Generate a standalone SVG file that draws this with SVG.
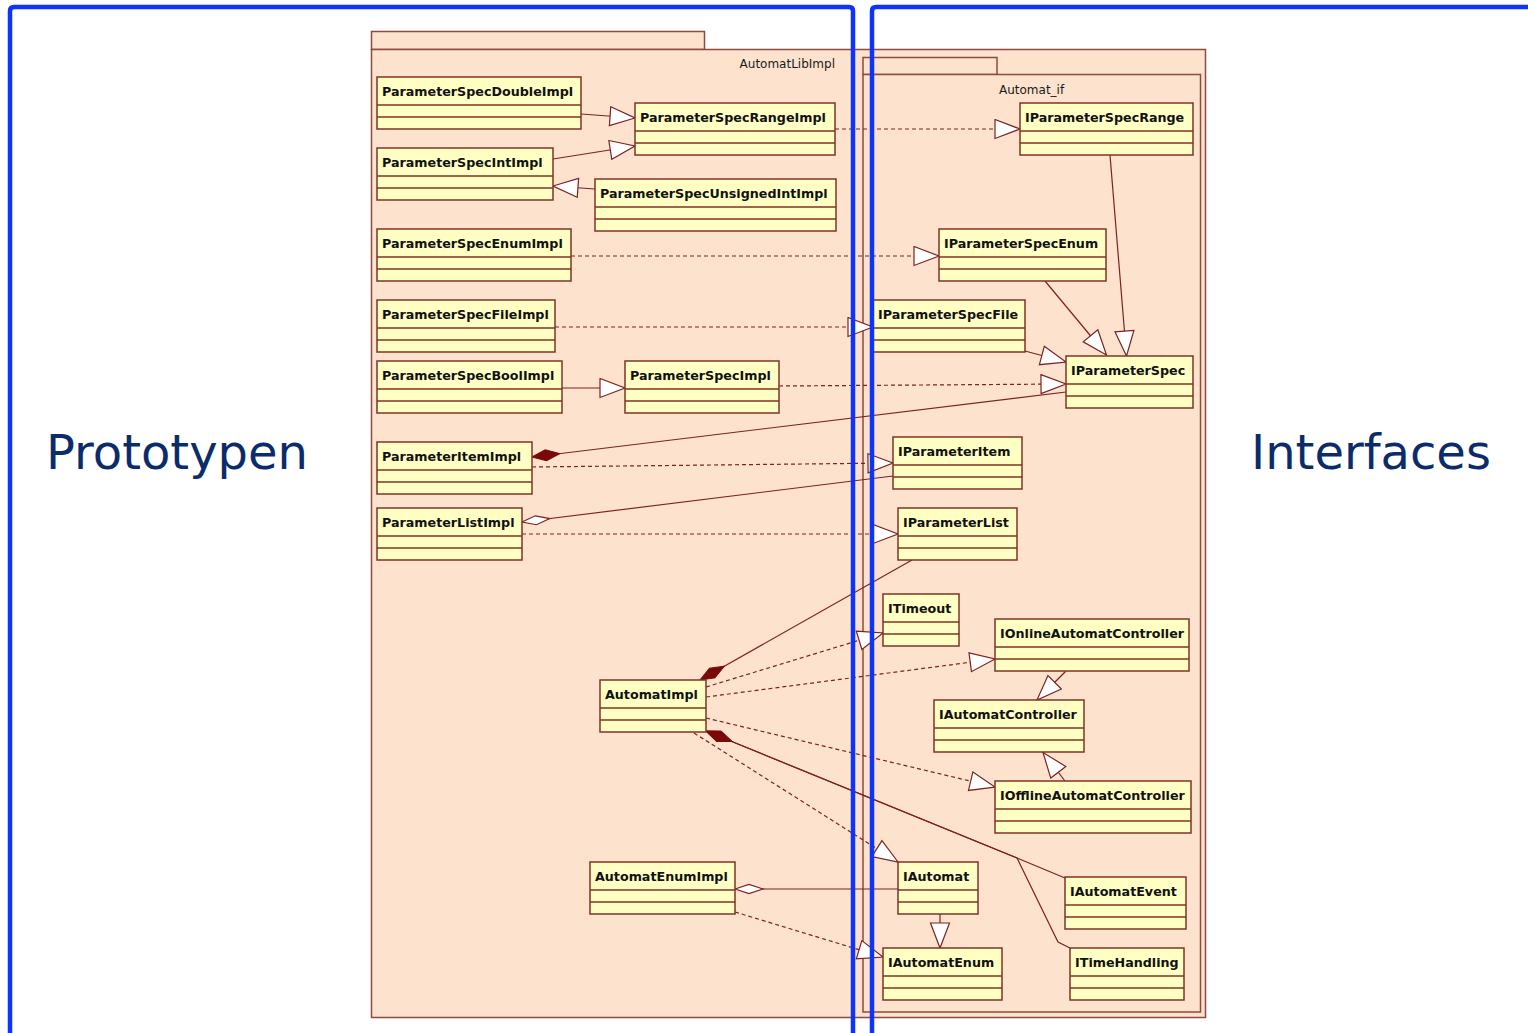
<svg xmlns="http://www.w3.org/2000/svg" width="1528" height="1033" viewBox="0 0 1528 1033">
  <style>
    .pkg { fill: #fde3cd; stroke: #8e4a3e; stroke-width: 1.5; }
    .pkglabel { font-family: "DejaVu Sans", Verdana, sans-serif; font-size: 12px; fill: #1a1a1a; }
    .cls { fill: #ffffc4; stroke: #7e3426; stroke-width: 1.5; }
    .div { stroke: #7e3426; stroke-width: 1.5; }
    .name { font-family: "DejaVu Sans", Verdana, sans-serif; font-size: 12.7px; font-weight: bold; fill: #111; }
    .solid { fill: none; stroke: #7a2222; stroke-width: 1.2; }
    .dash { fill: none; stroke: #7a2222; stroke-width: 1.2; stroke-dasharray: 4 3; }
    .frame { fill: none; stroke: #0d33ff; stroke-width: 4.5; stroke-linejoin: round; }
    .big { font-family: "DejaVu Sans", Verdana, sans-serif; font-size: 48px; fill: #0b2c6a; }
  </style>
  <defs>
    <marker id="tri" markerUnits="userSpaceOnUse" markerWidth="30" markerHeight="24" refX="26" refY="10.5" orient="auto">
      <path d="M1,1 L26,10.5 L1,20 Z" fill="#ffffff" stroke="#7a2222" stroke-width="1.2"/>
    </marker>
    <marker id="dia" markerUnits="userSpaceOnUse" markerWidth="32" markerHeight="16" refX="1" refY="7" orient="auto">
      <path d="M1,7 L15,1.5 L29,7 L15,12.5 Z" fill="#7a0a0a" stroke="#7a0a0a" stroke-width="1"/>
    </marker>
    <marker id="odia" markerUnits="userSpaceOnUse" markerWidth="32" markerHeight="16" refX="1" refY="7" orient="auto">
      <path d="M1,7 L15,2.5 L29,7 L15,11.5 Z" fill="#ffffff" stroke="#7a2222" stroke-width="1.2"/>
    </marker>
  </defs>

  <rect width="1528" height="1033" fill="#ffffff"/>

  <!-- packages -->
  <g id="pkg-AutomatLibImpl">
    <rect class="pkg" x="371.5" y="31.5" width="333" height="18"/>
    <rect class="pkg" x="371.5" y="49.5" width="834" height="968"/>
    <text class="pkglabel" x="835" y="68" text-anchor="end">AutomatLibImpl</text>
  </g>
  <g id="pkg-Automat_if">
    <rect class="pkg" x="863" y="57.5" width="134" height="17"/>
    <rect class="pkg" x="863" y="74.5" width="337.5" height="937.5"/>
    <text class="pkglabel" x="999" y="94">Automat_if</text>
  </g>

  <!-- connectors -->
  <g id="connectors">
    <!-- generalizations -->
    <path class="solid" d="M581,114 L635,118" marker-end="url(#tri)"/>
    <path class="solid" d="M553,159 L635,146" marker-end="url(#tri)"/>
    <path class="solid" d="M595,189 L553,186" marker-end="url(#tri)"/>
    <path class="solid" d="M562,388 L625,388" marker-end="url(#tri)"/>
    <path class="solid" d="M1110,155 L1126.5,356" marker-end="url(#tri)"/>
    <path class="solid" d="M1045,281 L1106.5,355" marker-end="url(#tri)"/>
    <path class="solid" d="M1025,351 L1066,362" marker-end="url(#tri)"/>
    <path class="solid" d="M1065.5,671.5 L1037,700" marker-end="url(#tri)"/>
    <path class="solid" d="M1065,781 L1043,752.5" marker-end="url(#tri)"/>
    <path class="solid" d="M940,914 L940,948" marker-end="url(#tri)"/>

    <!-- realizations -->
    <path class="dash" d="M835,129 L1020,129" marker-end="url(#tri)"/>
    <path class="dash" d="M571,256 L939,256" marker-end="url(#tri)"/>
    <path class="dash" d="M555,327 L873,327" marker-end="url(#tri)"/>
    <path class="dash" d="M779,386 L1066,384" marker-end="url(#tri)"/>
    <path class="dash" d="M532,467 L893,463" marker-end="url(#tri)"/>
    <path class="dash" d="M522,534 L898,534" marker-end="url(#tri)"/>
    <path class="dash" d="M706,687 L883,633" marker-end="url(#tri)"/>
    <path class="dash" d="M706,697 L995,659" marker-end="url(#tri)"/>
    <path class="dash" d="M706,718 L995,787" marker-end="url(#tri)"/>
    <path class="dash" d="M694,733 L898,862" marker-end="url(#tri)"/>
    <path class="dash" d="M735,912 L883,957" marker-end="url(#tri)"/>

    <!-- associations -->
    <path class="solid" d="M532,457 L1066,392" marker-start="url(#dia)"/>
    <path class="solid" d="M522,522 L893,476" marker-start="url(#odia)"/>
    <path class="solid" d="M700,680 L912,560" marker-start="url(#dia)"/>
    <path class="solid" d="M735,889 L898,889" marker-start="url(#odia)"/>
    <path class="solid" d="M706,731 L1017,858 L1065,878" marker-start="url(#dia)"/>
    <path class="solid" d="M706,731 L1017,858 L1058,942 L1070,948" marker-start="url(#dia)"/>
  </g>

  <!-- classes: name row, attribute row, operation row -->
  <g id="ParameterSpecDoubleImpl"><rect class="cls" x="377" y="77" width="204" height="52"/><path class="div" d="M377,105H581M377,117H581"/><text class="name" x="382" y="96">ParameterSpecDoubleImpl</text></g>
  <g id="ParameterSpecRangeImpl"><rect class="cls" x="635" y="103" width="200" height="52"/><path class="div" d="M635,131H835M635,143H835"/><text class="name" x="640" y="122">ParameterSpecRangeImpl</text></g>
  <g id="ParameterSpecIntImpl"><rect class="cls" x="377" y="148" width="176" height="52"/><path class="div" d="M377,176H553M377,188H553"/><text class="name" x="382" y="167">ParameterSpecIntImpl</text></g>
  <g id="ParameterSpecUnsignedIntImpl"><rect class="cls" x="595" y="179" width="241" height="52"/><path class="div" d="M595,207H836M595,219H836"/><text class="name" x="600" y="198">ParameterSpecUnsignedIntImpl</text></g>
  <g id="ParameterSpecEnumImpl"><rect class="cls" x="377" y="229" width="194" height="52"/><path class="div" d="M377,257H571M377,269H571"/><text class="name" x="382" y="248">ParameterSpecEnumImpl</text></g>
  <g id="ParameterSpecFileImpl"><rect class="cls" x="377" y="300" width="178" height="52"/><path class="div" d="M377,328H555M377,340H555"/><text class="name" x="382" y="319">ParameterSpecFileImpl</text></g>
  <g id="ParameterSpecBoolImpl"><rect class="cls" x="377" y="361" width="185" height="52"/><path class="div" d="M377,389H562M377,401H562"/><text class="name" x="382" y="380">ParameterSpecBoolImpl</text></g>
  <g id="ParameterSpecImpl"><rect class="cls" x="625" y="361" width="154" height="52"/><path class="div" d="M625,389H779M625,401H779"/><text class="name" x="630" y="380">ParameterSpecImpl</text></g>
  <g id="ParameterItemImpl"><rect class="cls" x="377" y="442" width="155" height="52"/><path class="div" d="M377,470H532M377,482H532"/><text class="name" x="382" y="461">ParameterItemImpl</text></g>
  <g id="ParameterListImpl"><rect class="cls" x="377" y="508" width="145" height="52"/><path class="div" d="M377,536H522M377,548H522"/><text class="name" x="382" y="527">ParameterListImpl</text></g>
  <g id="AutomatImpl"><rect class="cls" x="600" y="680" width="106" height="52"/><path class="div" d="M600,708H706M600,720H706"/><text class="name" x="605" y="699">AutomatImpl</text></g>
  <g id="AutomatEnumImpl"><rect class="cls" x="590" y="862" width="145" height="52"/><path class="div" d="M590,890H735M590,902H735"/><text class="name" x="595" y="881">AutomatEnumImpl</text></g>

  <g id="IParameterSpecRange"><rect class="cls" x="1020" y="103" width="173" height="52"/><path class="div" d="M1020,131H1193M1020,143H1193"/><text class="name" x="1025" y="122">IParameterSpecRange</text></g>
  <g id="IParameterSpecEnum"><rect class="cls" x="939" y="229" width="167" height="52"/><path class="div" d="M939,257H1106M939,269H1106"/><text class="name" x="944" y="248">IParameterSpecEnum</text></g>
  <g id="IParameterSpecFile"><rect class="cls" x="873" y="300" width="152" height="52"/><path class="div" d="M873,328H1025M873,340H1025"/><text class="name" x="878" y="319">IParameterSpecFile</text></g>
  <g id="IParameterSpec"><rect class="cls" x="1066" y="356" width="127" height="52"/><path class="div" d="M1066,384H1193M1066,396H1193"/><text class="name" x="1071" y="375">IParameterSpec</text></g>
  <g id="IParameterItem"><rect class="cls" x="893" y="437" width="129" height="52"/><path class="div" d="M893,465H1022M893,477H1022"/><text class="name" x="898" y="456">IParameterItem</text></g>
  <g id="IParameterList"><rect class="cls" x="898" y="508" width="119" height="52"/><path class="div" d="M898,536H1017M898,548H1017"/><text class="name" x="903" y="527">IParameterList</text></g>
  <g id="ITimeout"><rect class="cls" x="883" y="594" width="76" height="52"/><path class="div" d="M883,622H959M883,634H959"/><text class="name" x="888" y="613">ITimeout</text></g>
  <g id="IOnlineAutomatController"><rect class="cls" x="995" y="619" width="194" height="52"/><path class="div" d="M995,647H1189M995,659H1189"/><text class="name" x="1000" y="638">IOnlineAutomatController</text></g>
  <g id="IAutomatController"><rect class="cls" x="934" y="700" width="150" height="52"/><path class="div" d="M934,728H1084M934,740H1084"/><text class="name" x="939" y="719">IAutomatController</text></g>
  <g id="IOfflineAutomatController"><rect class="cls" x="995" y="781" width="196" height="52"/><path class="div" d="M995,809H1191M995,821H1191"/><text class="name" x="1000" y="800">IOfflineAutomatController</text></g>
  <g id="IAutomat"><rect class="cls" x="898" y="862" width="80" height="52"/><path class="div" d="M898,890H978M898,902H978"/><text class="name" x="903" y="881">IAutomat</text></g>
  <g id="IAutomatEvent"><rect class="cls" x="1065" y="877" width="121" height="52"/><path class="div" d="M1065,905H1186M1065,917H1186"/><text class="name" x="1070" y="896">IAutomatEvent</text></g>
  <g id="IAutomatEnum"><rect class="cls" x="883" y="948" width="119" height="52"/><path class="div" d="M883,976H1002M883,988H1002"/><text class="name" x="888" y="967">IAutomatEnum</text></g>
  <g id="ITimeHandling"><rect class="cls" x="1070" y="948" width="114" height="52"/><path class="div" d="M1070,976H1184M1070,988H1184"/><text class="name" x="1075" y="967">ITimeHandling</text></g>

  <!-- section frames and titles -->
  <g id="frame-prototypen">
    <path class="frame" d="M10,1040 L10,11 Q10,7 14,7 L849,7 Q853,7 853,11 L853,1040"/>
    <text class="big" x="46" y="469">Prototypen</text>
  </g>
  <g id="frame-interfaces">
    <path class="frame" d="M872,1040 L872,11 Q872,7 876,7 L1535,7"/>
    <text class="big" x="1251" y="469">Interfaces</text>
  </g>
</svg>
